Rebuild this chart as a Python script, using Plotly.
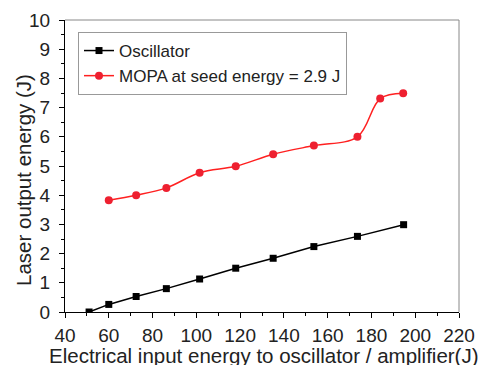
import plotly.graph_objects as go

osc_x = [51, 60, 72.5, 86.3, 101.5, 118, 135.1, 153.7, 173.6, 194.7]
osc_y = [0.0, 0.26, 0.53, 0.80, 1.13, 1.50, 1.84, 2.24, 2.59, 2.99]

mopa_x = [60, 72.5, 86.3, 101.5, 118, 135.1, 153.7, 173.6, 184, 194.5]
mopa_y = [3.83, 4.0, 4.25, 4.77, 4.99, 5.40, 5.70, 6.0, 7.31, 7.49]

x_ticks = list(range(40, 221, 20))
y_ticks = list(range(0, 11))

x_title = "Electrical input energy to oscillator / amplifier(J)"
y_title = "Laser output energy (J)"

font = "Liberation Sans, Arial, sans-serif"
txt = "#222"

W, H = 481, 365
L, R, T, B = 65, 22, 20, 53
pw, ph = W - L - R, H - T - B

fig = go.Figure()
fig.add_trace(go.Scatter(
    x=osc_x, y=osc_y, mode="lines+markers", name="Oscillator",
    line=dict(color="black", width=1.5),
    marker=dict(symbol="square", size=7, color="black")))
fig.add_trace(go.Scatter(
    x=mopa_x, y=mopa_y, mode="lines+markers", name="MOPA at seed energy = 2.9 J",
    line=dict(color="#ff2020", width=1.5, shape="spline", smoothing=1.0),
    marker=dict(symbol="circle", size=8, color="#ee2030")))

axis_common = dict(
    ticks="outside", ticklen=5, tickwidth=1, tickcolor="black",
    showline=True, linecolor="black", linewidth=1, mirror=False,
    showgrid=False, zeroline=False, automargin=False,
    tickfont=dict(size=19, family=font, color=txt),
)

fig.update_layout(
    width=W, height=H,
    margin=dict(l=L, r=R, t=T, b=B),
    plot_bgcolor="white", paper_bgcolor="white",
    font=dict(family=font, color=txt),
    showlegend=True,
    legend=dict(x=(78 - L) / pw, y=(H - B - 32) / ph, xanchor="left", yanchor="top",
                bgcolor="white", bordercolor="#999", borderwidth=1,
                font=dict(size=17, family=font, color=txt),
                tracegroupgap=0),
    xaxis=dict(range=[40, 220], tickvals=x_ticks,
               minor=dict(dtick=10, ticks="outside", ticklen=3, tickcolor="black", showgrid=False),
               ticklabelstandoff=1, **axis_common),
    yaxis=dict(range=[0, 10], tickvals=y_ticks,
               minor=dict(dtick=0.5, ticks="outside", ticklen=3, tickcolor="black", showgrid=False),
               ticklabelstandoff=5, **axis_common),
    annotations=[
        dict(text=x_title, xref="paper", yref="paper",
             x=(264 - L) / pw, y=(H - B - 368) / ph,
             xanchor="center", yanchor="bottom", showarrow=False, borderpad=0,
             font=dict(size=20.5, family=font, color=txt)),
        dict(text=y_title, xref="paper", yref="paper", textangle=-90,
             x=(23 - L) / pw, y=(H - B - 180) / ph,
             xanchor="center", yanchor="middle", showarrow=False, borderpad=0,
             font=dict(size=20.5, family=font, color=txt)),
    ],
)
# gray frame on top and right
fig.add_shape(type="line", xref="paper", yref="paper", x0=0, x1=1, y0=1, y1=1,
              line=dict(color="#888", width=1))
fig.add_shape(type="line", xref="paper", yref="paper", x0=1, x1=1, y0=0, y1=1,
              line=dict(color="#888", width=1))

fig.write_html("out.html", config={"displayModeBar": False},
               post_script="document.body.style.margin='0';document.body.style.padding='0';")
